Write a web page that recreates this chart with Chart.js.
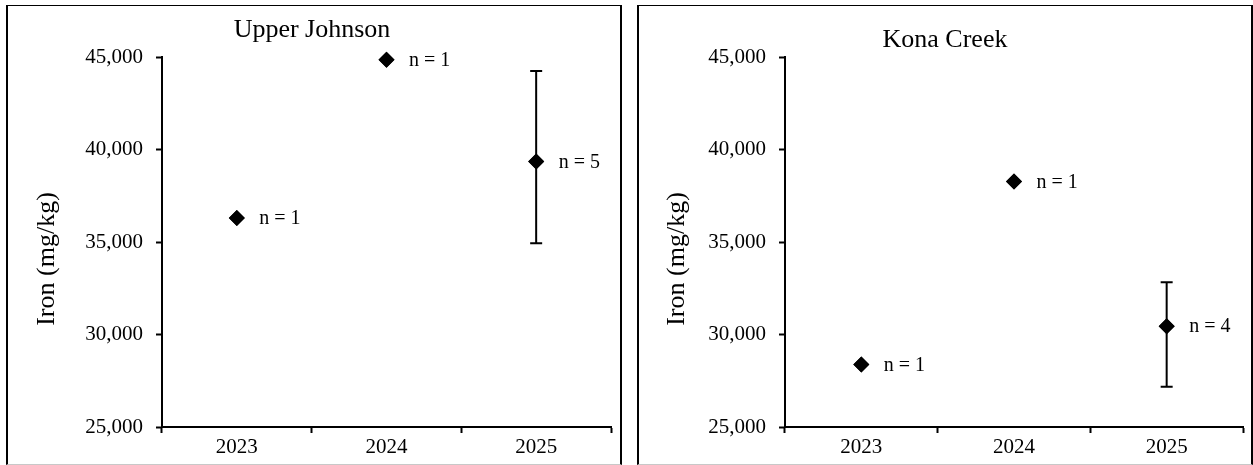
<!DOCTYPE html>
<html>
<head>
<meta charset="utf-8">
<script src="https://cdn.jsdelivr.net/npm/chart.js@4"></script>
<style>
  html, body { margin: 0; padding: 0; background: #fff; }
  body { width: 1253px; height: 465px; position: relative; overflow: hidden; }
  .panel { position: absolute; box-sizing: border-box; border-left: 2px solid #000; border-right: 2px solid #000; border-top: 1px solid #000; border-bottom: 1px solid #c8c8c8; pointer-events: none; }
  canvas { position: absolute; top: 0; }
</style>
</head>
<body>
<div class="panel" style="left:6px;top:5px;width:616px;height:460px;"></div>
<div class="panel" style="left:637px;top:5px;width:616px;height:460px;"></div>
<canvas id="c1" width="627" height="465" style="left:0px;width:627px;height:465px;"></canvas>
<canvas id="c2" width="626" height="465" style="left:627px;width:626px;height:465px;"></canvas>
<script>
// ---- data ----
const years = ['2023', '2024', '2025'];
const yTicks = [25000, 30000, 35000, 40000, 45000];

const ujTitle = 'Upper Johnson';
const ujMean = [36300, 44850, 39350];
const ujLow  = [null, null, 34930];
const ujHigh = [null, null, 44250];
const ujN    = ['n = 1', 'n = 1', 'n = 5'];

const kcTitle = 'Kona Creek';
const kcMean = [28380, 38270, 30450];
const kcLow  = [null, null, 27170];
const kcHigh = [null, null, 32820];
const kcN    = ['n = 1', 'n = 1', 'n = 4'];

const yTitle = 'Iron (mg/kg)';
// ---------------

const FONT = '"Liberation Serif", "Times New Roman", serif';

function makeChart(canvasId, title, mean, low, high, nLabels, geo) {
  const extras = {
    id: 'extras',
    afterDatasetsDraw(chart) {
      const ctx = chart.ctx;
      const xs = chart.scales.x, ys = chart.scales.y;
      ctx.save();
      // error bars
      ctx.strokeStyle = '#000';
      ctx.lineWidth = 2;
      for (let i = 0; i < mean.length; i++) {
        if (low[i] == null || high[i] == null) continue;
        const x = xs.getPixelForValue(i);
        const yl = ys.getPixelForValue(low[i]);
        const yh = ys.getPixelForValue(high[i]);
        ctx.beginPath();
        ctx.moveTo(x, yl); ctx.lineTo(x, yh);
        ctx.moveTo(x - 6, yl); ctx.lineTo(x + 6, yl);
        ctx.moveTo(x - 6, yh); ctx.lineTo(x + 6, yh);
        ctx.stroke();
      }
      // redraw points on top of bars
      const meta = chart.getDatasetMeta(0);
      meta.data.forEach(p => p.draw(ctx));
      // n labels
      ctx.fillStyle = '#000';
      ctx.font = '20px ' + FONT;
      ctx.textAlign = 'left';
      ctx.textBaseline = 'middle';
      for (let i = 0; i < mean.length; i++) {
        const x = xs.getPixelForValue(i);
        const y = ys.getPixelForValue(mean[i]);
        ctx.fillText(nLabels[i], x + 22.5, y + 1);
      }
      // chart title
      ctx.font = '26px ' + FONT;
      ctx.textAlign = 'center';
      ctx.textBaseline = 'alphabetic';
      ctx.fillText(title, geo.titleX, geo.titleY);
      // y axis title
      ctx.translate(geo.yTitleX, geo.yTitleY);
      ctx.rotate(-Math.PI / 2);
      ctx.font = '26px ' + FONT;
      ctx.textAlign = 'center';
      ctx.textBaseline = 'middle';
      ctx.fillText(yTitle, 0, 0);
      ctx.restore();
    }
  };

  return new Chart(document.getElementById(canvasId), {
    type: 'line',
    data: {
      labels: years,
      datasets: [{
        data: mean,
        showLine: false,
        pointStyle: 'rectRot',
        pointRadius: 8,
        pointHoverRadius: 8,
        pointBackgroundColor: '#000',
        pointBorderColor: '#000',
        pointBorderWidth: 0,
        clip: false
      }]
    },
    options: {
      responsive: false,
      animation: false,
      devicePixelRatio: 1,
      events: [],
      layout: { padding: { left: 0, right: geo.padRight, top: geo.padTop, bottom: 0 } },
      plugins: { legend: { display: false }, title: { display: false }, tooltip: { enabled: false } },
      scales: {
        x: {
          type: 'category',
          offset: true,
          grid: { offset: true, drawOnChartArea: false, drawTicks: true, tickLength: 6, tickWidth: 2, tickColor: '#000' },
          border: { display: true, color: '#000', width: 2 },
          ticks: { color: '#000', font: { family: FONT, size: 21 }, padding: 2, maxRotation: 0 },
          afterFit(s) { s.height = geo.xHeight; s.paddingLeft = 0; s.paddingRight = 0; }
        },
        y: {
          min: yTicks[0],
          max: yTicks[yTicks.length - 1],
          afterBuildTicks(s) { s.ticks = yTicks.map(v => ({ value: v })); },
          grid: { drawOnChartArea: false, drawTicks: true, tickLength: 6, tickWidth: 2, tickColor: '#000' },
          border: { display: true, color: '#000', width: 2 },
          ticks: {
            color: '#000', font: { family: FONT, size: 21 }, padding: 13,
            callback: v => Number(v).toLocaleString('en-US')
          },
          afterFit(s) { s.width = geo.yWidth; s.paddingTop = 0; s.paddingBottom = 0; }
        }
      }
    },
    plugins: [extras]
  });
}

makeChart('c1', ujTitle, ujMean, ujLow, ujHigh, ujN, {
  padRight: 627 - 611, padTop: 57, xHeight: 465 - 427 - 0, yWidth: 162,
  titleX: 312, titleY: 37, yTitleX: 47.5, yTitleY: 259
});
makeChart('c2', kcTitle, kcMean, kcLow, kcHigh, kcN, {
  padRight: 626 - (1243 - 627), padTop: 57, xHeight: 465 - 427 - 0, yWidth: 785 - 627,
  titleX: 945 - 627, titleY: 46.5, yTitleX: 677.5 - 627, yTitleY: 259
});
</script>
</body>
</html>
